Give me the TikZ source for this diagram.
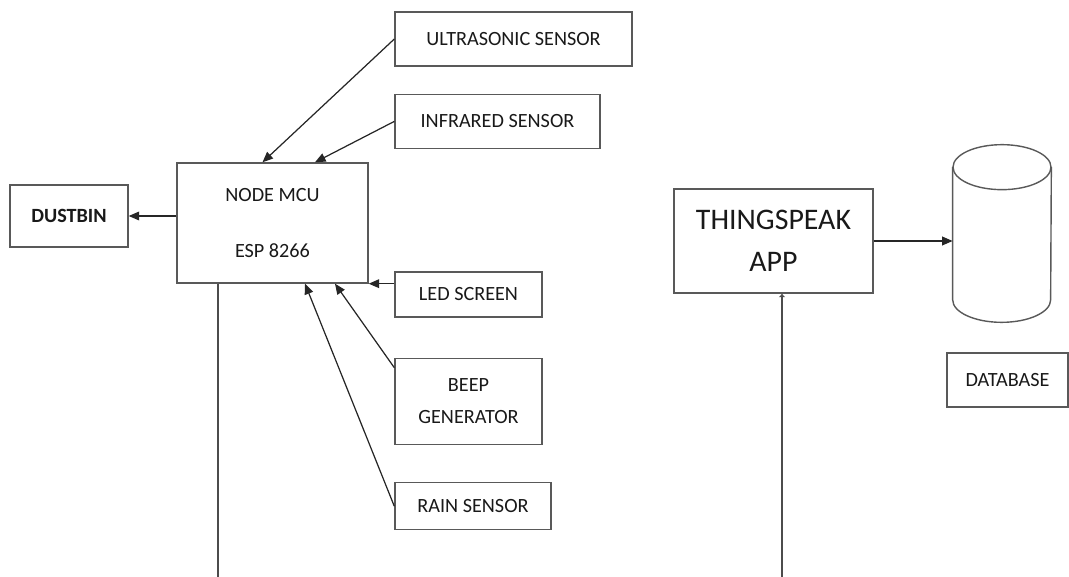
\documentclass[tikz,border=0pt]{standalone}
\usepackage{fontspec}
\setmainfont{Carlito}
\usepackage{tikz}
\usetikzlibrary{positioning,calc,arrows.meta}

\begin{document}
\begin{tikzpicture}[
    x=0.02cm, y=-0.02cm,
    box/.style={rectangle, draw=black!65, line width=0.8pt, inner sep=0pt, align=center, text=black!90, font=\fontsize{11.5}{18}\selectfont},
    arrow/.style={-{Triangle[length=6pt,width=5pt]}, line width=0.7pt, draw=black!85},
    wire/.style={line width=0.7pt, draw=black!70}
]
    \useasboundingbox (0,0) rectangle (1069,577);

    \node[box, minimum width=4.74cm, minimum height=1.08cm] (ultra) at (513.5,39) {ULTRASONIC SENSOR};
    \node[box, minimum width=4.1cm, minimum height=1.08cm, below=0.54cm of ultra.south west, anchor=north west] (infra) {INFRARED SENSOR};
    \node[box, minimum width=3.82cm, minimum height=2.4cm] (mcu) at (272.5,223) {NODE MCU\\[0.5cm]ESP 8266};
    \node[box, minimum width=2.36cm, minimum height=1.24cm, font=\fontsize{11.5}{18}\selectfont\bfseries] (dustbin) at (69,216) {DUSTBIN};
    \node[box, minimum width=2.94cm, minimum height=0.9cm] (led) at (468.5,294.5) {LED SCREEN};
    \node[box, minimum width=2.94cm, minimum height=1.72cm, below=0.8cm of led.south west, anchor=north west] (beep) {BEEP\\GENERATOR};
    \node[box, minimum width=3.12cm, minimum height=0.94cm, below=0.74cm of beep.south west, anchor=north west] (rain) {RAIN SENSOR};
    \node[box, minimum width=3.98cm, minimum height=2.08cm, font=\fontsize{17}{24}\selectfont] (thing) at (773.5,241) {THINGSPEAK\\APP};
    \node[minimum width=1.96cm, minimum height=3.54cm, inner sep=0pt] (db) at (1002,233.5) {};
    \node[box, minimum width=2.42cm, minimum height=1.08cm] (dbname) at (1007.5,380) {DATABASE};
    \coordinate (mcuout) at (218,577);
    \coordinate (thingin) at (782,577);

    \draw[draw=black!65, line width=0.8pt] ($(db.north west)+(0,-0.45cm)$) -- ($(db.south west)+(0,0.45cm)$)
        arc[start angle=180, end angle=360, x radius=0.98cm, y radius=0.45cm] -- ($(db.north east)+(0,-0.45cm)$);
    \draw[draw=black!65, line width=0.8pt] ($(db.north)+(0,-0.45cm)$) ellipse[x radius=0.98cm, y radius=0.45cm];

    \draw[arrow] (ultra.west) -- ([xshift=-0.2cm]mcu.north);
    \draw[arrow] (infra.west) -- ([xshift=0.85cm]mcu.north);
    \draw[arrow] (mcu.west |- dustbin.east) -- (dustbin.east);
    \draw[arrow] (led.west |- mcu.south east) -- (mcu.south east);
    \draw[arrow] ([yshift=-0.2cm]beep.north west) -- ([xshift=1.25cm]mcu.south);
    \draw[arrow] (rain.west) -- ([xshift=0.65cm]mcu.south);
    \draw[arrow] (thing.east) -- (thing.east -| db.west);
    \draw[wire] (mcuout |- mcu.south) -- (mcuout);
    \draw[wire, -{Latex[length=2pt,width=4pt]}] (thingin) -- (thingin |- thing.south);
\end{tikzpicture}
\end{document}
